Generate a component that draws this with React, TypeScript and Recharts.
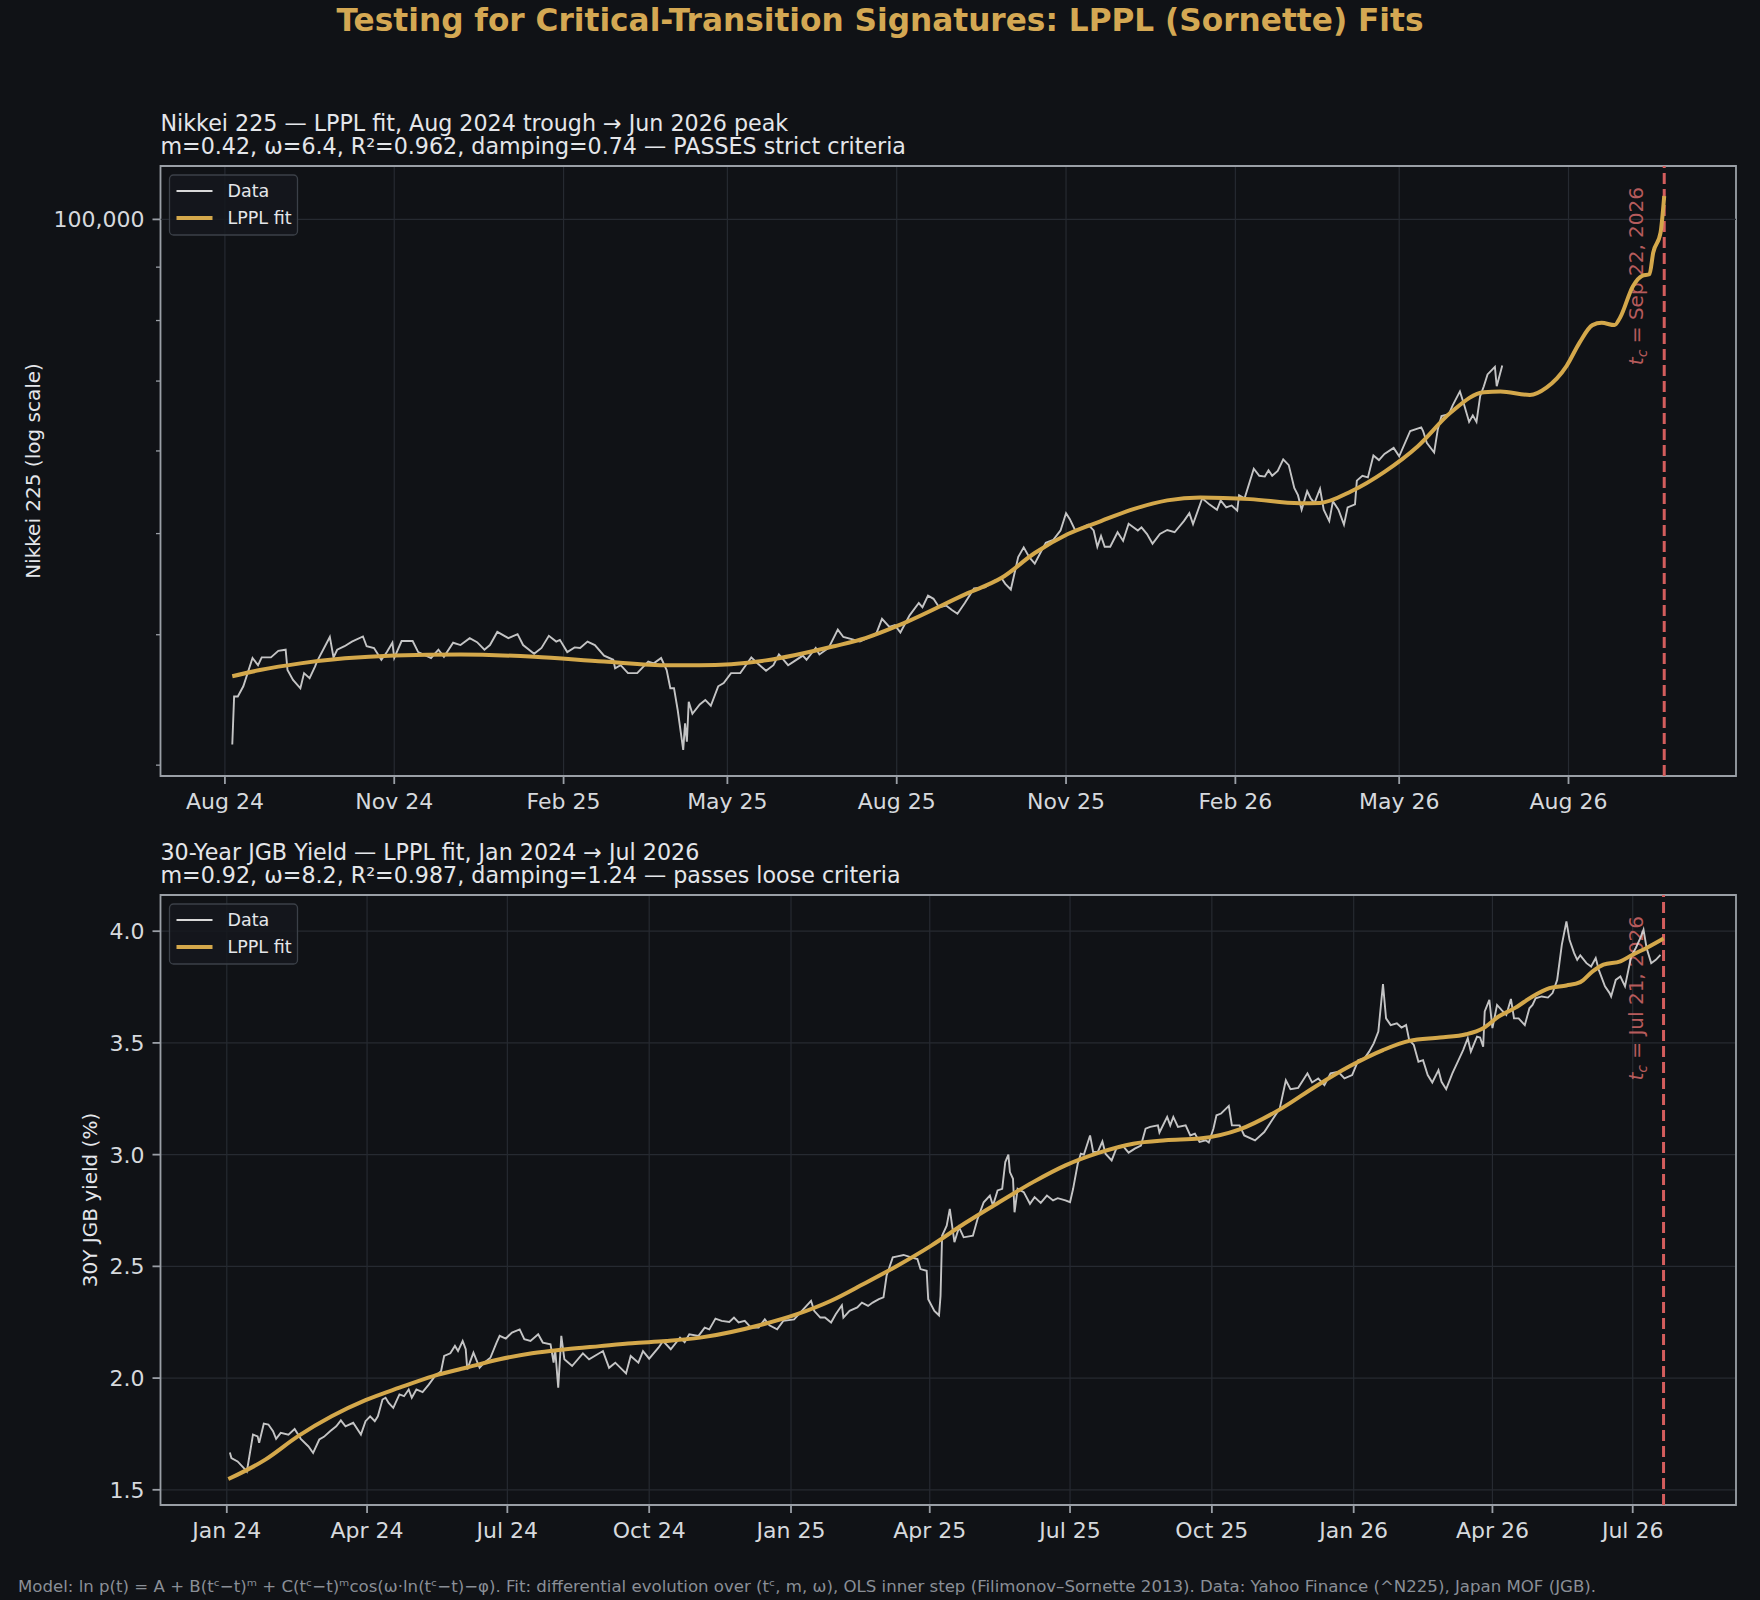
import React from 'react'
import { LineChart, Line, XAxis, YAxis, CartesianGrid, ReferenceLine, ReferenceArea } from 'recharts'

type Pt = [string, number]

// Nikkei 225 daily close, Aug 2024 trough -> Jun 2026
const NIKKEI: Pt[] = [
  ['2024-08-05', 31400], ['2024-08-06', 34900], ['2024-08-08', 34900], ['2024-08-11', 35700], ['2024-08-16', 38000],
  ['2024-08-19', 37400], ['2024-08-21', 38050], ['2024-08-26', 38050], ['2024-08-30', 38600], ['2024-09-03', 38700],
  ['2024-09-04', 37000], ['2024-09-07', 36200], ['2024-09-11', 35540], ['2024-09-13', 36750], ['2024-09-16', 36350],
  ['2024-09-19', 37300], ['2024-09-20', 37700], ['2024-09-27', 39800], ['2024-09-29', 38050], ['2024-10-01', 38700],
  ['2024-10-05', 39000], ['2024-10-09', 39400], ['2024-10-15', 39850], ['2024-10-17', 39000], ['2024-10-21', 38850],
  ['2024-10-25', 37850], ['2024-10-28', 38500], ['2024-10-31', 39300], ['2024-11-01', 38000], ['2024-11-05', 39450],
  ['2024-11-11', 39450], ['2024-11-14', 38500], ['2024-11-21', 38000], ['2024-11-25', 38700], ['2024-11-28', 38100],
  ['2024-12-03', 39300], ['2024-12-07', 39100], ['2024-12-12', 39700], ['2024-12-16', 39350], ['2024-12-20', 38700],
  ['2024-12-23', 39100], ['2024-12-27', 40250], ['2025-01-02', 39700], ['2025-01-07', 40050], ['2025-01-10', 39100],
  ['2025-01-16', 38350], ['2025-01-20', 38850], ['2025-01-24', 39900], ['2025-01-28', 39400], ['2025-01-30', 39550],
  ['2025-02-03', 38500], ['2025-02-07', 38900], ['2025-02-10', 38850], ['2025-02-14', 39400], ['2025-02-18', 39100],
  ['2025-02-23', 38200], ['2025-02-28', 37850], ['2025-03-01', 37150], ['2025-03-04', 37400], ['2025-03-08', 36750],
  ['2025-03-13', 36750], ['2025-03-19', 37700], ['2025-03-22', 37550], ['2025-03-26', 38000], ['2025-03-29', 37000],
  ['2025-03-31', 35550], ['2025-04-02', 35550], ['2025-04-04', 33880], ['2025-04-07', 31030], ['2025-04-08', 32900],
  ['2025-04-09', 31600], ['2025-04-10', 34500], ['2025-04-12', 33600], ['2025-04-16', 34300], ['2025-04-19', 34640],
  ['2025-04-22', 34200], ['2025-04-26', 35700], ['2025-04-29', 35950], ['2025-05-03', 36750], ['2025-05-08', 36750],
  ['2025-05-11', 37400], ['2025-05-14', 38050], ['2025-05-17', 37600], ['2025-05-22', 36950], ['2025-05-26', 37400],
  ['2025-05-29', 38300], ['2025-06-03', 37400], ['2025-06-06', 37700], ['2025-06-11', 38200], ['2025-06-13', 37850],
  ['2025-06-18', 38850], ['2025-06-20', 38300], ['2025-06-25', 38850], ['2025-06-30', 40450], ['2025-07-03', 39800],
  ['2025-07-08', 39600], ['2025-07-12', 39400], ['2025-07-18', 39850], ['2025-07-21', 40150], ['2025-07-24', 41430],
  ['2025-07-28', 40700], ['2025-07-31', 40850], ['2025-08-03', 40200], ['2025-08-08', 41750], ['2025-08-13', 42900],
  ['2025-08-15', 42500], ['2025-08-18', 43600], ['2025-08-21', 43300], ['2025-08-24', 42500], ['2025-08-28', 42650],
  ['2025-08-31', 42250], ['2025-09-03', 41900], ['2025-09-07', 42900], ['2025-09-12', 44300], ['2025-09-18', 44400],
  ['2025-09-23', 45050], ['2025-09-27', 45300], ['2025-09-29', 44750], ['2025-10-02', 44200], ['2025-10-06', 47470],
  ['2025-10-09', 48500], ['2025-10-12', 47470], ['2025-10-15', 46800], ['2025-10-18', 47900], ['2025-10-21', 49000],
  ['2025-10-25', 49300], ['2025-10-29', 50350], ['2025-11-01', 52300], ['2025-11-03', 51650], ['2025-11-06', 50350],
  ['2025-11-10', 50700], ['2025-11-13', 51000], ['2025-11-16', 50350], ['2025-11-18', 48570], ['2025-11-20', 49750],
  ['2025-11-22', 48570], ['2025-11-25', 48570], ['2025-11-29', 50150], ['2025-12-02', 49200], ['2025-12-05', 51100],
  ['2025-12-10', 50350], ['2025-12-12', 50700], ['2025-12-15', 49950], ['2025-12-18', 48900], ['2025-12-22', 49950],
  ['2025-12-26', 50400], ['2025-12-30', 50150], ['2026-01-04', 51400], ['2026-01-07', 52300], ['2026-01-09', 51050],
  ['2026-01-14', 54050], ['2026-01-18', 53300], ['2026-01-22', 52700], ['2026-01-24', 53800], ['2026-01-27', 52980],
  ['2026-01-30', 53200], ['2026-02-02', 52600], ['2026-02-03', 54420], ['2026-02-06', 54050], ['2026-02-11', 57700],
  ['2026-02-14', 56800], ['2026-02-17', 56700], ['2026-02-19', 57500], ['2026-02-21', 56800], ['2026-02-24', 57400],
  ['2026-02-27', 58900], ['2026-03-02', 58150], ['2026-03-05', 55300], ['2026-03-07', 54420], ['2026-03-09', 52700],
  ['2026-03-12', 54900], ['2026-03-14', 54000], ['2026-03-16', 53500], ['2026-03-19', 55200], ['2026-03-21', 52700],
  ['2026-03-24', 51400], ['2026-03-26', 53700], ['2026-03-29', 52700], ['2026-04-01', 51000], ['2026-04-03', 52980],
  ['2026-04-07', 53320], ['2026-04-08', 56200], ['2026-04-11', 56800], ['2026-04-14', 56600], ['2026-04-17', 59400],
  ['2026-04-20', 58800], ['2026-04-23', 59600], ['2026-04-28', 60400], ['2026-05-01', 59300], ['2026-05-07', 62700],
  ['2026-05-13', 63200], ['2026-05-14', 62700], ['2026-05-16', 61100], ['2026-05-20', 59800], ['2026-05-22', 62950],
  ['2026-05-24', 64800], ['2026-05-28', 65080], ['2026-05-30', 66300], ['2026-06-03', 68420], ['2026-06-05', 66700],
  ['2026-06-08', 63970], ['2026-06-10', 64900], ['2026-06-12', 63970], ['2026-06-14', 67700], ['2026-06-16', 69200],
  ['2026-06-18', 71030], ['2026-06-22', 72230], ['2026-06-23', 69200], ['2026-06-26', 72450],
]

const NIKKEI_FIT: Pt[] = [
  ['2024-08-05', 36500], ['2024-08-20', 37000], ['2024-09-11', 37550], ['2024-11-01', 38200], ['2024-12-07', 38300],
  ['2025-01-16', 38100], ['2025-02-23', 37700], ['2025-03-30', 37400], ['2025-04-16', 37400], ['2025-05-22', 37800],
  ['2025-06-28', 39000], ['2025-07-15', 39700], ['2025-08-03', 40900], ['2025-09-08', 43800], ['2025-09-27', 45350],
  ['2025-10-15', 47900], ['2025-11-02', 49950], ['2025-11-20', 51400], ['2025-12-08', 52800], ['2025-12-26', 53800],
  ['2026-01-13', 54150], ['2026-02-09', 53950], ['2026-03-08', 53450], ['2026-03-19', 53500], ['2026-04-05', 54900],
  ['2026-04-23', 57300], ['2026-05-11', 60600], ['2026-05-29', 65300], ['2026-06-16', 68300], ['2026-06-25', 68400],
  ['2026-07-11', 67900], ['2026-07-20', 69000], ['2026-07-31', 72400], ['2026-08-07', 76200], ['2026-08-14', 79200],
  ['2026-08-19', 79600], ['2026-08-26', 79200], ['2026-08-29', 80500], ['2026-09-05', 86300], ['2026-09-10', 88300],
  ['2026-09-14', 88600], ['2026-09-16', 92900], ['2026-09-20', 97100], ['2026-09-22', 105300],
]

// 30Y JGB yield (%), Jan 2024 -> Jul 2026
const JGB: Pt[] = [
  ['2024-01-03', 1.667], ['2024-01-04', 1.642], ['2024-01-08', 1.627], ['2024-01-13', 1.59], ['2024-01-14', 1.582],
  ['2024-01-18', 1.747], ['2024-01-21', 1.739], ['2024-01-22', 1.71], ['2024-01-25', 1.796], ['2024-01-28', 1.792],
  ['2024-01-31', 1.762], ['2024-02-02', 1.728], ['2024-02-05', 1.755], ['2024-02-10', 1.747], ['2024-02-14', 1.772],
  ['2024-02-18', 1.728], ['2024-02-23', 1.694], ['2024-02-26', 1.665], ['2024-03-01', 1.725], ['2024-03-04', 1.737],
  ['2024-03-08', 1.762], ['2024-03-12', 1.784], ['2024-03-15', 1.811], ['2024-03-18', 1.784], ['2024-03-23', 1.8],
  ['2024-03-28', 1.747], ['2024-03-31', 1.807], ['2024-04-03', 1.829], ['2024-04-06', 1.807], ['2024-04-08', 1.829],
  ['2024-04-11', 1.904], ['2024-04-13', 1.912], ['2024-04-15', 1.889], ['2024-04-18', 1.867], ['2024-04-22', 1.927],
  ['2024-04-25', 1.919], ['2024-04-28', 1.949], ['2024-04-30', 1.912], ['2024-05-03', 1.949], ['2024-05-07', 1.937],
  ['2024-05-11', 1.971], ['2024-05-15', 2.009], ['2024-05-19', 2.031], ['2024-05-21', 2.099], ['2024-05-25', 2.111],
  ['2024-05-28', 2.144], ['2024-05-30', 2.121], ['2024-06-02', 2.166], ['2024-06-04', 2.129], ['2024-06-05', 2.039],
  ['2024-06-09', 2.114], ['2024-06-13', 2.046], ['2024-06-16', 2.069], ['2024-06-20', 2.091], ['2024-06-24', 2.159],
  ['2024-06-26', 2.189], ['2024-06-30', 2.177], ['2024-07-04', 2.204], ['2024-07-09', 2.218], ['2024-07-12', 2.174],
  ['2024-07-16', 2.166], ['2024-07-21', 2.196], ['2024-07-24', 2.159], ['2024-07-29', 2.151], ['2024-07-31', 2.069],
  ['2024-08-01', 2.129], ['2024-08-03', 1.957], ['2024-08-05', 2.189], ['2024-08-07', 2.084], ['2024-08-12', 2.054],
  ['2024-08-19', 2.111], ['2024-08-23', 2.084], ['2024-09-01', 2.121], ['2024-09-05', 2.046], ['2024-09-09', 2.069],
  ['2024-09-16', 2.021], ['2024-09-19', 2.099], ['2024-09-24', 2.069], ['2024-09-27', 2.121], ['2024-10-01', 2.087],
  ['2024-10-07', 2.136], ['2024-10-10', 2.166], ['2024-10-15', 2.129], ['2024-10-21', 2.181], ['2024-10-24', 2.161],
  ['2024-10-27', 2.196], ['2024-11-02', 2.189], ['2024-11-06', 2.226], ['2024-11-09', 2.218], ['2024-11-13', 2.266],
  ['2024-11-17', 2.256], ['2024-11-22', 2.251], ['2024-11-25', 2.271], ['2024-11-28', 2.249], ['2024-12-02', 2.256],
  ['2024-12-06', 2.226], ['2024-12-11', 2.226], ['2024-12-15', 2.263], ['2024-12-18', 2.236], ['2024-12-23', 2.218],
  ['2024-12-27', 2.256], ['2025-01-03', 2.263], ['2025-01-07', 2.293], ['2025-01-14', 2.346], ['2025-01-16', 2.301],
  ['2025-01-20', 2.271], ['2025-01-23', 2.271], ['2025-01-27', 2.249], ['2025-01-30', 2.286], ['2025-02-03', 2.326],
  ['2025-02-04', 2.271], ['2025-02-08', 2.301], ['2025-02-13', 2.316], ['2025-02-16', 2.338], ['2025-02-20', 2.323],
  ['2025-02-23', 2.338], ['2025-02-27', 2.353], ['2025-03-02', 2.361], ['2025-03-04', 2.458], ['2025-03-08', 2.54],
  ['2025-03-11', 2.545], ['2025-03-15', 2.551], ['2025-03-20', 2.54], ['2025-03-24', 2.533], ['2025-03-26', 2.488],
  ['2025-03-30', 2.48], ['2025-03-31', 2.353], ['2025-04-04', 2.301], ['2025-04-07', 2.281], ['2025-04-08', 2.368],
  ['2025-04-09', 2.637], ['2025-04-12', 2.682], ['2025-04-14', 2.757], ['2025-04-17', 2.608], ['2025-04-20', 2.675],
  ['2025-04-23', 2.63], ['2025-04-29', 2.637], ['2025-05-02', 2.712], ['2025-05-06', 2.787], ['2025-05-10', 2.817],
  ['2025-05-12', 2.772], ['2025-05-15', 2.84], ['2025-05-18', 2.847], ['2025-05-20', 2.967], ['2025-05-22', 3.0],
  ['2025-05-23', 2.922], ['2025-05-25', 2.892], ['2025-05-26', 2.742], ['2025-05-28', 2.847], ['2025-06-01', 2.832],
  ['2025-06-05', 2.78], ['2025-06-08', 2.81], ['2025-06-12', 2.784], ['2025-06-16', 2.817], ['2025-06-20', 2.795],
  ['2025-06-23', 2.805], ['2025-06-28', 2.795], ['2025-07-01', 2.787], ['2025-07-03', 2.847], ['2025-07-06', 2.959],
  ['2025-07-08', 3.004], ['2025-07-10', 3.0], ['2025-07-14', 3.086], ['2025-07-16', 3.012], ['2025-07-19', 3.012],
  ['2025-07-22', 3.059], ['2025-07-24', 3.004], ['2025-07-28', 2.974], ['2025-07-31', 3.027], ['2025-08-04', 3.041],
  ['2025-08-08', 3.009], ['2025-08-12', 3.027], ['2025-08-16', 3.041], ['2025-08-19', 3.116], ['2025-08-22', 3.124],
  ['2025-08-27', 3.131], ['2025-08-28', 3.099], ['2025-09-02', 3.169], ['2025-09-04', 3.131], ['2025-09-06', 3.169],
  ['2025-09-09', 3.124], ['2025-09-14', 3.131], ['2025-09-17', 3.086], ['2025-09-20', 3.094], ['2025-09-23', 3.057],
  ['2025-09-27', 3.064], ['2025-09-29', 3.054], ['2025-10-02', 3.116], ['2025-10-04', 3.176], ['2025-10-07', 3.184],
  ['2025-10-12', 3.218], ['2025-10-14', 3.131], ['2025-10-19', 3.131], ['2025-10-22', 3.086], ['2025-10-29', 3.064],
  ['2025-11-04', 3.101], ['2025-11-09', 3.154], ['2025-11-14', 3.206], ['2025-11-18', 3.333], ['2025-11-21', 3.293],
  ['2025-11-26', 3.299], ['2025-12-02', 3.364], ['2025-12-05', 3.323], ['2025-12-09', 3.341], ['2025-12-13', 3.311],
  ['2025-12-17', 3.364], ['2025-12-22', 3.371], ['2025-12-26', 3.341], ['2025-12-31', 3.356], ['2026-01-04', 3.423],
  ['2026-01-08', 3.431], ['2026-01-11', 3.461], ['2026-01-14', 3.498], ['2026-01-17', 3.551], ['2026-01-20', 3.763],
  ['2026-01-22', 3.61], ['2026-01-25', 3.58], ['2026-01-29', 3.588], ['2026-02-01', 3.569], ['2026-02-04', 3.58],
  ['2026-02-06', 3.513], ['2026-02-09', 3.491], ['2026-02-12', 3.416], ['2026-02-15', 3.423], ['2026-02-18', 3.356],
  ['2026-02-21', 3.323], ['2026-02-25', 3.378], ['2026-02-27', 3.326], ['2026-03-02', 3.293], ['2026-03-06', 3.364],
  ['2026-03-10', 3.423], ['2026-03-13', 3.468], ['2026-03-16', 3.521], ['2026-03-18', 3.461], ['2026-03-22', 3.528],
  ['2026-03-24', 3.524], ['2026-03-26', 3.483], ['2026-03-27', 3.641], ['2026-03-30', 3.693], ['2026-04-01', 3.566],
  ['2026-04-04', 3.67], ['2026-04-07', 3.647], ['2026-04-10', 3.625], ['2026-04-13', 3.697], ['2026-04-15', 3.61],
  ['2026-04-18', 3.61], ['2026-04-22', 3.58], ['2026-04-25', 3.655], ['2026-04-27', 3.67], ['2026-04-29', 3.7],
  ['2026-05-03', 3.708], ['2026-05-07', 3.703], ['2026-05-10', 3.723], ['2026-05-13', 3.782], ['2026-05-16', 3.939],
  ['2026-05-19', 4.044], ['2026-05-21', 3.962], ['2026-05-24', 3.902], ['2026-05-26', 3.872], ['2026-05-28', 3.892],
  ['2026-06-01', 3.857], ['2026-06-04', 3.842], ['2026-06-07', 3.88], ['2026-06-09', 3.827], ['2026-06-13', 3.753],
  ['2026-06-16', 3.723], ['2026-06-17', 3.708], ['2026-06-20', 3.782], ['2026-06-23', 3.797], ['2026-06-26', 3.753],
  ['2026-06-30', 3.887], ['2026-07-03', 3.925], ['2026-07-06', 3.97], ['2026-07-08', 4.007], ['2026-07-10', 3.925],
  ['2026-07-13', 3.857], ['2026-07-16', 3.872], ['2026-07-19', 3.894],
]

const JGB_FIT: Pt[] = [
  ['2024-01-02', 1.548], ['2024-01-26', 1.635], ['2024-02-16', 1.739], ['2024-03-09', 1.829], ['2024-03-31', 1.901],
  ['2024-04-22', 1.957], ['2024-05-14', 2.009], ['2024-06-04', 2.046], ['2024-06-26', 2.084], ['2024-07-17', 2.111],
  ['2024-08-08', 2.129], ['2024-08-30', 2.143], ['2024-09-20', 2.156], ['2024-10-12', 2.166], ['2024-11-03', 2.181],
  ['2024-12-14', 2.241], ['2025-01-05', 2.286], ['2025-01-27', 2.346], ['2025-02-17', 2.421], ['2025-03-11', 2.503],
  ['2025-04-02', 2.593], ['2025-04-24', 2.694], ['2025-05-16', 2.787], ['2025-06-07', 2.877], ['2025-06-28', 2.952],
  ['2025-07-20', 3.009], ['2025-08-11', 3.049], ['2025-09-01', 3.064], ['2025-09-23', 3.072], ['2025-10-19', 3.113],
  ['2025-11-15', 3.206], ['2025-12-07', 3.304], ['2025-12-29', 3.394], ['2026-01-20', 3.468], ['2026-02-06', 3.509],
  ['2026-02-26', 3.524], ['2026-03-15', 3.539], ['2026-03-26', 3.566], ['2026-04-05', 3.618], ['2026-04-16', 3.658],
  ['2026-04-27', 3.708], ['2026-05-08', 3.745], ['2026-05-19', 3.757], ['2026-05-28', 3.772], ['2026-06-05', 3.82],
  ['2026-06-12', 3.85], ['2026-06-23', 3.865], ['2026-07-01', 3.895], ['2026-07-10', 3.925], ['2026-07-21', 3.967],
]

const NIKKEI_TC = '2026-09-22'
const JGB_TC = '2026-07-21'

const NIKKEI_X_TICKS = ['2024-08-01', '2024-11-01', '2025-02-01', '2025-05-01', '2025-08-01', '2025-11-01', '2026-02-01', '2026-05-01', '2026-08-01']
const JGB_X_TICKS = ['2024-01-01', '2024-04-01', '2024-07-01', '2024-10-01', '2025-01-01', '2025-04-01', '2025-07-01', '2025-10-01', '2026-01-01', '2026-04-01', '2026-07-01']
const NIKKEI_X_DOMAIN = ['2024-06-27', '2026-10-31']
const JGB_X_DOMAIN = ['2023-11-19', '2026-09-06']

const NIKKEI_Y_TICKS = [30000, 40000, 50000, 60000, 70000, 80000, 90000, 100000]
const NIKKEI_Y_MAJOR = [100000]
const NIKKEI_Y_DOMAIN = [29290, 112500]
const JGB_Y_TICKS = [1.5, 2.0, 2.5, 3.0, 3.5, 4.0]
const JGB_Y_DOMAIN = [1.432, 4.162]

const MONTHS = ['Jan', 'Feb', 'Mar', 'Apr', 'May', 'Jun', 'Jul', 'Aug', 'Sep', 'Oct', 'Nov', 'Dec']

const FONT = '"DejaVu Sans", Verdana, sans-serif'
const BG = '#101216'
const SPINE = '#9a9fa6'
const GRID = '#262a31'
const TEXT = '#e4e6ea'
const TICK_TEXT = '#d6d9dd'
const GOLD = '#d4a84b'
const DATA_LINE = '#d8d8d8'
const RED = '#d35d5d'
const RED_TEXT = '#c96464'

const ts = (d: string) => Date.parse(d + 'T00:00:00Z')
const toRows = (s: Pt[]) => s.map(([d, v]) => ({ t: ts(d), v }))
const fmtMonth = (t: number) => {
  const d = new Date(t)
  return `${MONTHS[d.getUTCMonth()]} ${String(d.getUTCFullYear()).slice(2)}`
}

function XTick({ x, y, payload }: any) {
  return (
    <g>
      <line x1={x} x2={x} y1={y} y2={y + 8} stroke={SPINE} strokeWidth={1.8} />
      <text x={x} y={y + 33} textAnchor="middle" fill={TICK_TEXT} fontSize={22} fontFamily={FONT}>
        {fmtMonth(payload.value)}
      </text>
    </g>
  )
}

function YTick({ x, y, payload, major, fmt }: any) {
  const isMajor = !major || major.includes(payload.value)
  return (
    <g>
      <line x1={x - (isMajor ? 8 : 4.5)} x2={x} y1={y} y2={y} stroke={SPINE} strokeWidth={isMajor ? 1.8 : 1.3} />
      {isMajor && (
        <text x={x - 16} y={y + 8} textAnchor="end" fill={TICK_TEXT} fontSize={22} fontFamily={FONT}>
          {fmt(payload.value)}
        </text>
      )}
    </g>
  )
}

const tcLabel = (text: string) => (props: any) => {
  const vb = props.viewBox || {}
  const x = (vb.x ?? 0) - 21
  const y = (vb.y ?? 0) + 21
  return (
    <text x={x} y={y} transform={`rotate(-90 ${x} ${y})`} textAnchor="end" fill={RED_TEXT} fontSize={20} fontFamily={FONT} opacity={0.9}>
      <tspan fontStyle="italic">t</tspan>
      <tspan fontStyle="italic" fontSize={14} dy={4}>c</tspan>
      <tspan dy={-4}>{'\u00a0=\u00a0' + text}</tspan>
    </text>
  )
}

function Panel(p: any) {
  const xDomain = p.xDomain.map(ts)
  return (
    <div style={{ position: 'absolute', left: 0, top: p.top }}>
      <LineChart width={1760} height={p.height} margin={{ top: p.marginTop, right: 24, bottom: 0, left: 0 }}>
        <CartesianGrid stroke={GRID} strokeWidth={1.2} vertical horizontal={p.gridY} />
        <XAxis
          dataKey="t"
          type="number"
          domain={xDomain}
          ticks={p.xTicks.map(ts)}
          interval={0}
          allowDataOverflow
          height={p.xAxisHeight}
          tickSize={0}
          tickMargin={0}
          axisLine={false}
          tickLine={false}
          tick={(tp: any) => <XTick {...tp} />}
        />
        <YAxis
          dataKey="v"
          type="number"
          scale={p.yLog ? 'log' : 'linear'}
          domain={p.yDomain}
          ticks={p.yTicks}
          interval={0}
          allowDataOverflow
          width={160.5}
          tickSize={0}
          tickMargin={0}
          axisLine={false}
          tickLine={false}
          tick={(tp: any) => <YTick {...tp} major={p.yMajor} fmt={p.yFmt} />}
        />
        {!p.gridY && p.yMajor.map((v: number) => <ReferenceLine key={v} y={v} stroke={GRID} strokeWidth={1.2} />)}
        <ReferenceLine x={ts(p.tc)} stroke={RED} strokeWidth={3} strokeDasharray="11 5" label={tcLabel(p.tcText)} />
        <Line data={toRows(p.series)} dataKey="v" type="linear" dot={false} stroke={DATA_LINE} strokeOpacity={0.9} strokeWidth={1.9} isAnimationActive={false} />
        <Line data={toRows(p.fit)} dataKey="v" type="monotone" dot={false} stroke={GOLD} strokeWidth={4} isAnimationActive={false} />
        <ReferenceArea x1={xDomain[0]} x2={xDomain[1]} y1={p.yDomain[0]} y2={p.yDomain[1]} fill="none" stroke={SPINE} strokeWidth={1.8} />
      </LineChart>
    </div>
  )
}

function LegendBox({ x, y }: { x: number; y: number }) {
  return (
    <g>
      <rect x={x} y={y} width={128} height={60} rx={4} fill="#15181d" fillOpacity={0.85} stroke="#3b4048" strokeWidth={1.3} />
      <line x1={x + 7} x2={x + 43} y1={y + 16} y2={y + 16} stroke={DATA_LINE} strokeWidth={1.9} />
      <text x={x + 58} y={y + 22} fill={TEXT} fontSize={17.5} fontFamily={FONT}>Data</text>
      <line x1={x + 7} x2={x + 43} y1={y + 43} y2={y + 43} stroke={GOLD} strokeWidth={4} />
      <text x={x + 58} y={y + 49} fill={TEXT} fontSize={17.5} fontFamily={FONT}>LPPL fit</text>
    </g>
  )
}

export default function App() {
  return (
    <div style={{ position: 'relative', width: 1760, height: 1600, background: BG, overflow: 'hidden' }}>
      <style>{`body{margin:0;background:${BG}}`}</style>
      <Panel
        top={0} height={826} marginTop={166} xAxisHeight={50}
        series={NIKKEI} fit={NIKKEI_FIT}
        xDomain={NIKKEI_X_DOMAIN} xTicks={NIKKEI_X_TICKS}
        yLog yDomain={NIKKEI_Y_DOMAIN} yTicks={NIKKEI_Y_TICKS} yMajor={NIKKEI_Y_MAJOR}
        yFmt={(v: number) => v.toLocaleString('en-US')} gridY={false}
        tc={NIKKEI_TC} tcText="Sep 22, 2026"
      />
      <Panel
        top={830} height={730} marginTop={65} xAxisHeight={55}
        series={JGB} fit={JGB_FIT}
        xDomain={JGB_X_DOMAIN} xTicks={JGB_X_TICKS}
        yDomain={JGB_Y_DOMAIN} yTicks={JGB_Y_TICKS} yMajor={null}
        yFmt={(v: number) => v.toFixed(1)} gridY
        tc={JGB_TC} tcText="Jul 21, 2026"
      />
      <svg width={1760} height={1600} style={{ position: 'absolute', left: 0, top: 0, pointerEvents: 'none' }}>
        <text x={880} y={30.5} textAnchor="middle" fill="#d4a853" fontSize={31.2} fontWeight="bold" fontFamily={FONT}>
          Testing for Critical-Transition Signatures: LPPL (Sornette) Fits
        </text>
        <text x={160.5} y={131} fill={TEXT} fontSize={22.2} fontFamily={FONT}>Nikkei 225 — LPPL fit, Aug 2024 trough → Jun 2026 peak</text>
        <text x={160.5} y={154} fill={TEXT} fontSize={22.2} fontFamily={FONT}>m=0.42, ω=6.4, R²=0.962, damping=0.74 — PASSES strict criteria</text>
        <text x={160.5} y={860} fill={TEXT} fontSize={22.2} fontFamily={FONT}>30-Year JGB Yield — LPPL fit, Jan 2024 → Jul 2026</text>
        <text x={160.5} y={883.3} fill={TEXT} fontSize={22.2} fontFamily={FONT}>m=0.92, ω=8.2, R²=0.987, damping=1.24 — passes loose criteria</text>
        <text x={40.3} y={471} transform="rotate(-90 40.3 471)" textAnchor="middle" fill={TEXT} fontSize={20} fontFamily={FONT}>Nikkei 225 (log scale)</text>
        <text x={96.6} y={1200} transform="rotate(-90 96.6 1200)" textAnchor="middle" fill={TEXT} fontSize={20} fontFamily={FONT}>30Y JGB yield (%)</text>
        <LegendBox x={169.5} y={175} />
        <LegendBox x={169.5} y={904} />
        <text x={18} y={1592} fill="#8a8f97" fontSize={16.6} fontFamily={FONT}>
          Model: ln p(t) = A + B(tᶜ−t)ᵐ + C(tᶜ−t)ᵐcos(ω·ln(tᶜ−t)−φ). Fit: differential evolution over (tᶜ, m, ω), OLS inner step (Filimonov–Sornette 2013). Data: Yahoo Finance (^N225), Japan MOF (JGB).
        </text>
      </svg>
    </div>
  )
}
